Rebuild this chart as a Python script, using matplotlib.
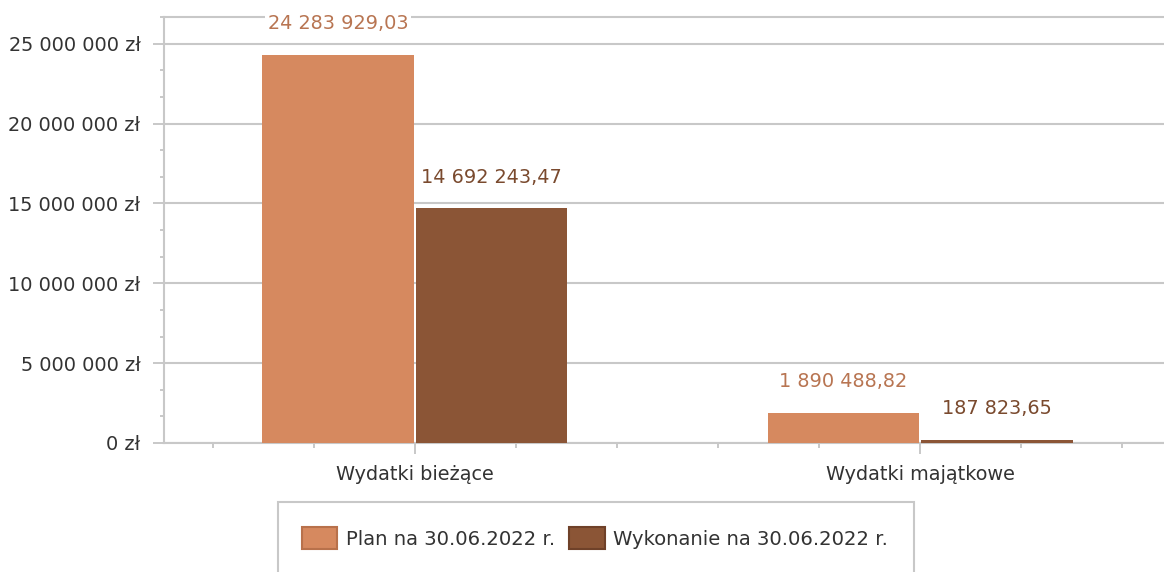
import matplotlib.pyplot as plt
from matplotlib.patches import Rectangle
from matplotlib.ticker import FuncFormatter, MultipleLocator, FixedLocator

categories = ['Wydatki bieżące', 'Wydatki majątkowe']
series_names = ['Plan na 30.06.2022 r.', 'Wykonanie na 30.06.2022 r.']
plan = [24283929.03, 1890488.82]
wykonanie = [14692243.47, 187823.65]

bar_colors = ['#d6895f', '#8b5536']
edge_colors = ['#b8714b', '#6f4129']
label_colors = ['#b87552', '#7a4a2e']
gray = '#c8c8c8'
text_color = '#333333'


def pl_money(v):
    return '{:,.2f}'.format(v).replace(',', ' ').replace('.', ',')


plt.rcParams['font.family'] = ['DejaVu Sans']
fs = 13.85

fig = plt.figure(figsize=(11.64, 5.72), dpi=100)
ax = fig.add_axes([164 / 1164, 129 / 572, 1000 / 1164, 426 / 572])

w = 0.3
x = range(len(categories))
for i, vals in enumerate([plan, wykonanie]):
    off = (-1 if i == 0 else 1) * (w / 2 + 0.002)
    pos = [c + off for c in x]
    ax.bar(pos, vals, width=w, color=bar_colors[i], zorder=3)
    for p, v in zip(pos, vals):
        ax.annotate(pl_money(v), (p, v), xytext=(0, 22.5), textcoords='offset points',
                    ha='center', va='center', fontsize=fs, color=label_colors[i], zorder=4,
                    bbox=dict(boxstyle='square,pad=0.15', fc='white', ec='none'))

left = -0.5 + 2 / 505.5
ax.set_xlim(left, left + 1000 / 505.5)
ax.set_ylim(0, 25e6 + 5e6 / 3)

# y axis
ax.yaxis.set_major_locator(FixedLocator([0, 5e6, 10e6, 15e6, 20e6, 25e6]))
ax.yaxis.set_minor_locator(MultipleLocator(5e6 / 3))
ax.yaxis.set_major_formatter(FuncFormatter(
    lambda v, p: '{:,.0f} zł'.format(v).replace(',', ' ')))
ax.tick_params(axis='y', which='major', length=8, width=1.4, color=gray, pad=9,
               labelsize=fs, labelcolor=text_color)
ax.tick_params(axis='y', which='minor', length=3, width=1.4, color=gray)
ax.grid(axis='y', which='major', color=gray, linewidth=1.5, zorder=0)
ax.axhline(ax.get_ylim()[1], color=gray, linewidth=1.5, zorder=0, clip_on=False)

# x axis
ax.set_xticks(list(x))
ax.set_xticklabels(categories)
ax.xaxis.set_minor_locator(FixedLocator([-0.4, -0.2, 0.2, 0.4, 0.6, 0.8, 1.2, 1.4]))
ax.tick_params(axis='x', which='major', length=8, width=1.4, color=gray, pad=8,
               labelsize=fs, labelcolor=text_color)
ax.tick_params(axis='x', which='minor', length=3.5, width=1.4, color=gray)

for s in ['top', 'right']:
    ax.spines[s].set_visible(False)
for s in ['left', 'bottom']:
    ax.spines[s].set_color(gray)
    ax.spines[s].set_linewidth(1.5)
    ax.spines[s].set_zorder(2)

# legend
fig.patches.append(Rectangle((278 / 1164, -0.05), 636 / 1164, (572 - 502) / 572 + 0.05,
                             transform=fig.transFigure, fill=False, ec=gray, lw=1.5))
handles = [Rectangle((0, 0), 1, 1, fc=bar_colors[i], ec=edge_colors[i], lw=1.5)
           for i in range(2)]
fig.legend(handles, series_names, loc='center', bbox_to_anchor=(595 / 1164, (572 - 538) / 572),
           ncol=2, frameon=False, fontsize=14.1, handlelength=1.8, handleheight=1.4,
           handletextpad=0.42, columnspacing=0.75, labelcolor=text_color)

fig.savefig('out.png', dpi=100)
